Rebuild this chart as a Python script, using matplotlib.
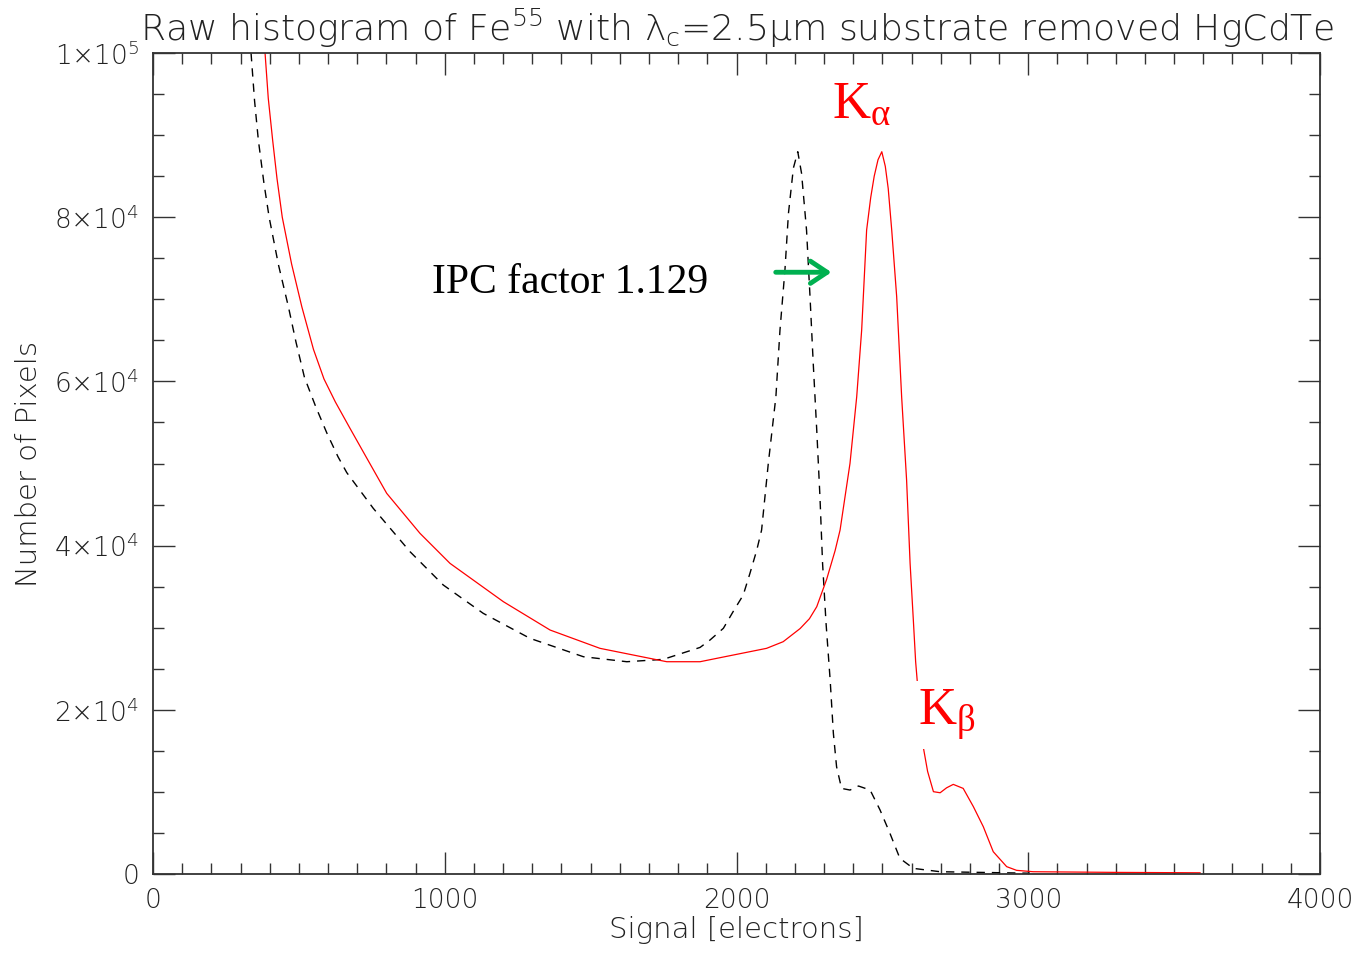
import matplotlib
matplotlib.use("Agg")
import matplotlib.pyplot as plt
from matplotlib.ticker import FixedLocator, MultipleLocator

# red: histogram after IPC correction, black dashed: raw
red_x = [384, 395, 410, 425, 443, 475, 510, 550, 586, 625, 675, 730, 801, 915, 1018,
         1201, 1361, 1532, 1703, 1761, 1875, 1932, 2103, 2160, 2218, 2250, 2275, 2309,
         2338, 2355, 2389, 2412, 2429, 2446, 2460, 2472, 2485, 2498, 2510, 2520, 2532,
         2549, 2566, 2583, 2595, 2606, 2614, 2630, 2640, 2655, 2675, 2698, 2720, 2743,
         2777, 2812, 2846, 2880, 2926, 2960, 3017, 3300, 3589]
red_y = [100000, 94500, 89400, 84700, 80000, 74300, 69100, 63900, 60300, 57500, 54300,
         50830, 46370, 41500, 37840, 33170, 29720, 27490, 26270, 25860, 25860, 26270,
         27490, 28300, 29900, 31100, 32560, 35900, 39400, 41900, 50020, 58140, 66260,
         78440, 82400, 85000, 87000, 87980, 86200, 83500, 78440, 70320, 58140, 47990,
         37840, 31000, 25860, 19000, 15500, 12500, 10030, 9900, 10500, 10920, 10430,
         8200, 5760, 2720, 900, 450, 280, 200, 150]

raw_x = [336, 348, 361, 380, 398, 430, 464, 490, 519, 558, 596, 634, 664, 755, 881, 995,
         1132, 1292, 1475, 1624, 1749, 1875, 1909, 1955, 1989, 2023, 2046, 2069, 2086,
         2109, 2135, 2149, 2166, 2178, 2195, 2210, 2223, 2240, 2252, 2263, 2275, 2286,
         2295, 2307, 2321, 2332, 2343, 2360, 2389, 2418, 2458, 2492, 2526, 2560, 2606,
         2698, 3006]
raw_y = [100000, 94200, 89400, 84200, 80000, 74200, 69100, 64800, 60500, 56900, 53700,
         50830, 48900, 44540, 39260, 35200, 31750, 28710, 26470, 25860, 26150, 27600,
         28500, 29930, 32000, 33980, 36620, 39400, 41900, 50020, 58140, 66260, 73570,
         80460, 86000, 87980, 85340, 78440, 70320, 62190, 54080, 45960, 37840, 30500,
         23630, 17140, 13070, 10430, 10230, 10720, 10230, 7800, 4950, 1910, 690, 280, 100]

xticks = [0, 1000, 2000, 3000, 4000]
yticks = [0, 20000, 40000, 60000, 80000, 100000]
ytick_labels = ["0", r"2$\mathregular{\times10^4}$", r"4$\mathregular{\times10^4}$",
                r"6$\mathregular{\times10^4}$", r"8$\mathregular{\times10^4}$",
                r"1$\mathregular{\times10^5}$"]

plt.rcParams['font.family'] = ['DejaVu Sans']
plt.rcParams['font.weight'] = 'light'
plt.rcParams['axes.titleweight'] = 'light'
plt.rcParams['axes.labelweight'] = 'light'

fig = plt.figure(figsize=(13.59, 9.61), dpi=100)
ax = fig.add_axes([0.1126, 0.0905, 0.8587, 0.8543])

ax.plot(raw_x, raw_y, color='black', lw=1.0, dashes=(6, 5))
ax.plot(red_x, red_y, color='red', lw=0.9)

ax.set_xlim(0, 4000)
ax.set_ylim(0, 100000)
ax.xaxis.set_major_locator(FixedLocator(xticks))
ax.xaxis.set_minor_locator(MultipleLocator(100))
ax.yaxis.set_major_locator(FixedLocator(yticks))
ax.yaxis.set_minor_locator(MultipleLocator(5000))
ax.set_yticklabels(ytick_labels)
ax.tick_params(which='both', direction='in', top=True, right=True,
               color='#333333', width=1.0, labelsize=19, labelcolor='#222222')
ax.tick_params(which='major', length=16, pad=10)
ax.tick_params(which='minor', length=8)
for s in ax.spines.values():
    s.set_color('#333333')
    s.set_linewidth(1.3)

ax.set_xlabel("Signal [electrons]", fontsize=21, color='#222222', labelpad=2)
ax.set_ylabel("Number of Pixels", fontsize=21, color='#222222', labelpad=8)
ax.set_title(r"Raw histogram of Fe$\mathregular{^{55}}$ with $\mathregular{\lambda_c}$=2.5$\mathregular{\mu}$m substrate removed HgCdTe",
             fontsize=26, color='#222222', pad=9)

ax.text(956, 72000, "IPC factor 1.129", fontsize=30, family='Liberation Serif',
        weight='normal', va='center', ha='left', color='black')
ax.text(2327, 92080, r"$\mathregular{K_{\alpha}}$", fontsize=38, family='Liberation Serif',
        weight='normal', color='red', ha='left', va='baseline')
ax.text(2622, 18150, r"$\mathregular{K_{\beta}}$", fontsize=38, family='Liberation Serif',
        weight='normal', color='red', ha='left', va='baseline',
        bbox=dict(facecolor='white', edgecolor='none', pad=5))
ax.annotate('', xy=(2335, 73300), xytext=(2125, 73300),
            arrowprops=dict(arrowstyle='->,head_length=0.6,head_width=0.4',
                            color='#00b050', lw=3.5, mutation_scale=20))

fig.savefig("out.png", dpi=100)
